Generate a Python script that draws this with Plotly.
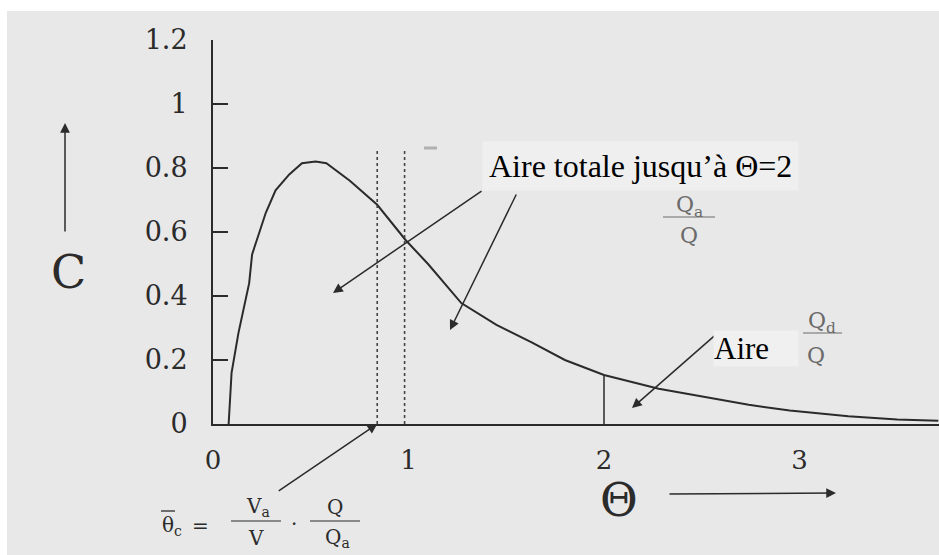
import plotly.graph_objects as go

# Residence-time distribution curve C(theta)
theta = [0.08, 0.095, 0.13, 0.185, 0.20, 0.27, 0.32, 0.39, 0.455, 0.525, 0.58,
         0.70, 0.84, 0.985, 1.10, 1.27, 1.45, 1.63, 1.80, 2.00, 2.28, 2.50,
         2.74, 2.95, 3.25, 3.50, 3.71]
conc = [0.0, 0.16, 0.284, 0.44, 0.53, 0.66, 0.73, 0.78, 0.815, 0.82, 0.815,
        0.76, 0.685, 0.575, 0.50, 0.378, 0.31, 0.255, 0.20, 0.153, 0.11, 0.085,
        0.06, 0.042, 0.024, 0.014, 0.01]

y_ticks = [0, 0.2, 0.4, 0.6, 0.8, 1, 1.2]
y_tick_text = ["0", "0.2", "0.4", "0.6", "0.8", "1", "1.2"]
x_ticks = [0, 1, 2, 3]
x_tick_text = ["0", "1", "2", "3"]

theta_c = 0.84        # mean residence time of the active zone
theta_one = 0.98      # reduced time marker
theta_cut = 2.0       # integration limit
dotted_top = 0.8625

W, H = 939, 555
X0, XS = 213, 195.5   # pixel position of theta=0 and pixels per unit
Y0, YS = 424, 320

def px(x):
    return x / W

def py(y):
    return 1 - y / H

x_range = [0, (W - X0) / XS]

fig = go.Figure()

fig.add_trace(go.Scatter(
    x=theta, y=conc, mode="lines",
    line=dict(color="#2b2b2b", width=2), hoverinfo="skip", showlegend=False,
))

# dotted markers at theta_c and theta = 1
for t in (theta_c, theta_one):
    fig.add_trace(go.Scatter(
        x=[t, t], y=[0, dotted_top], mode="lines",
        line=dict(color="#444444", width=1.6, dash="dot"),
        hoverinfo="skip", showlegend=False,
    ))

# vertical limit at theta = 2, up to the curve
c_cut = conc[theta.index(theta_cut)]
fig.add_trace(go.Scatter(
    x=[theta_cut, theta_cut], y=[0, c_cut], mode="lines",
    line=dict(color="#2b2b2b", width=1.5), hoverinfo="skip", showlegend=False,
))

serif = "DejaVu Serif"
times = "Liberation Serif"
ink = "#2b2b2b"
grey = "#6a6a6a"

shapes = [
    # scanned page background
    dict(type="rect", xref="paper", yref="paper", x0=px(7), x1=1, y0=0, y1=py(11),
         fillcolor="#e8e8e8", line=dict(width=0), layer="below"),
    # fraction bars
    dict(type="line", xref="paper", yref="paper", x0=px(663), x1=px(715),
         y0=py(217), y1=py(217), line=dict(color=grey, width=1.2)),
    dict(type="line", xref="paper", yref="paper", x0=px(803), x1=px(842),
         y0=py(333), y1=py(333), line=dict(color=grey, width=1.2)),
    dict(type="line", xref="paper", yref="paper", x0=px(231), x1=px(281),
         y0=py(521), y1=py(521), line=dict(color=ink, width=1.2)),
    dict(type="line", xref="paper", yref="paper", x0=px(310), x1=px(360),
         y0=py(521), y1=py(521), line=dict(color=ink, width=1.2)),
    # bar over theta_c
    dict(type="line", xref="paper", yref="paper", x0=px(161), x1=px(175),
         y0=py(511), y1=py(511), line=dict(color=ink, width=1.3)),
    # small grey smudge
    dict(type="line", xref="paper", yref="paper", x0=px(424), x1=px(437),
         y0=py(148), y1=py(148), line=dict(color="#b0b0b0", width=3)),
]

ann = []

def text(x, y, s, size, font=serif, color=ink, **kw):
    ann.append(dict(xref="paper", yref="paper", x=px(x), y=py(y), text=s,
                    showarrow=False, font=dict(family=font, size=size, color=color),
                    xanchor=kw.pop("xanchor", "center"), yanchor=kw.pop("yanchor", "middle"),
                    **kw))

# axis titles with their direction arrows
text(68, 272, "C", 46)
text(619, 500, "Θ", 46)
ann.append(dict(xref="paper", yref="paper", x=px(65), y=py(123), ax=0, ay=110,
                text="", showarrow=True, arrowhead=2, arrowsize=1.3, arrowwidth=1.5,
                arrowcolor=ink))
ann.append(dict(xref="paper", yref="paper", x=px(836), y=py(493), ax=-168, ay=1,
                text="", showarrow=True, arrowhead=2, arrowsize=1.3, arrowwidth=1.5,
                arrowcolor=ink))

# arrows pointing at the areas
def arrow(x, y, tx, ty):
    ann.append(dict(xref="x", yref="y", x=x, y=y, axref="x", ayref="y", ax=tx, ay=ty,
                    text="", showarrow=True, arrowhead=2, arrowsize=1.3, arrowwidth=1.5,
                    arrowcolor=ink))

def d(pxx, pyy):
    return (pxx - X0) / XS, (Y0 - pyy) / YS

arrow(*d(333, 293), *d(483, 190))
arrow(*d(450, 330), *d(517, 193))
arrow(*d(632, 408), *d(721, 330))
ann.append(dict(xref="x", yref="y", x=theta_c, y=0, ax=-100, ay=68,
                text="", showarrow=True, arrowhead=2, arrowsize=1.3, arrowwidth=1.5,
                arrowcolor=ink))

# labels
text(482, 166, "Aire totale jusqu’à Θ=2", 32, font=times, color="#000000",
     xanchor="left", bgcolor="#efefef", borderpad=6)
text(713, 348, "Aire", 31, font=times, color="#000000", xanchor="left",
     bgcolor="#f0f0f0", width=84, align="left", borderpad=0)

text(689, 207, "Q<sub>a</sub>", 22, color=grey)
text(689, 235, "Q", 22, color=grey)
text(822, 322, "Q<sub>d</sub>", 22, color=grey)
text(816, 355, "Q", 22, color=grey)

text(172, 526, "θ<sub>c</sub>", 20, color=ink)
text(200, 526, "=", 20, color=ink)
text(258, 507, "V<sub>a</sub>", 20, color=ink)
text(256, 538, "V", 20, color=ink)
text(294, 524, "·", 20, color=ink)
text(335, 507, "Q", 20, color=ink)
text(337, 538, "Q<sub>a</sub>", 20, color=ink)

fig.update_layout(
    width=W, height=H, autosize=False,
    margin=dict(l=0, r=0, t=0, b=0, pad=0, autoexpand=False),
    paper_bgcolor="white", plot_bgcolor="rgba(0,0,0,0)",
    showlegend=False,
    shapes=shapes, annotations=ann,
    xaxis=dict(domain=[X0 / W, 1], range=x_range, showgrid=False, zeroline=False,
               showline=True, linecolor=ink, linewidth=2, ticks="", automargin=False,
               tickvals=x_ticks, ticktext=x_tick_text, ticklabelstandoff=12,
               tickfont=dict(family=serif, size=26, color=ink), fixedrange=True),
    yaxis=dict(domain=[1 - Y0 / H, 1 - (Y0 - 1.2 * YS) / H], range=[0, 1.2],
               showgrid=False, zeroline=False, showline=True, linecolor=ink,
               linewidth=2, ticks="inside", ticklen=15, tickwidth=1.8, tickcolor=ink,
               automargin=False,
               tickvals=y_ticks, ticktext=y_tick_text, ticklabelstandoff=18,
               tickfont=dict(family=serif, size=27, color=ink), fixedrange=True),
)

fig.write_html("out.html")
